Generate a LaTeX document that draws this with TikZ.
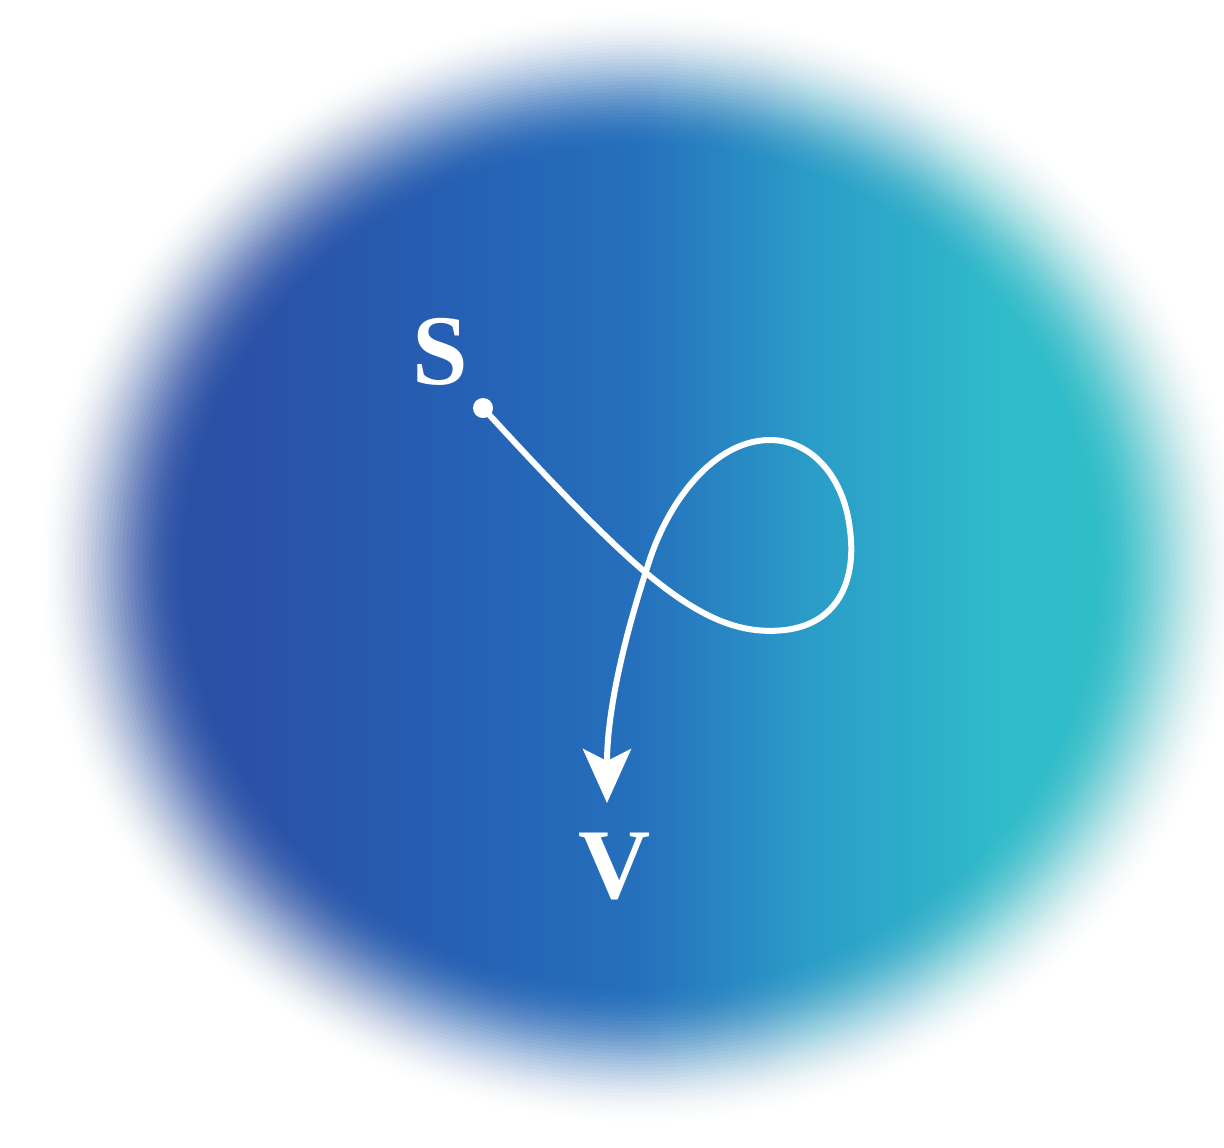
\documentclass[tikz,border=0pt]{standalone}
\usepackage{fontspec}
\setmainfont{Liberation Serif}[BoldFont={Liberation Serif Bold}]
\usetikzlibrary{arrows.meta}
\definecolor{c0}{HTML}{2A4CA2}
\definecolor{c1}{HTML}{2A52A8}
\definecolor{c2}{HTML}{2560B4}
\definecolor{c3}{HTML}{2570BC}
\definecolor{c4}{HTML}{2A9CC8}
\definecolor{c5}{HTML}{2FBBCA}
\definecolor{c6}{HTML}{30C0C8}
\pgfdeclarehorizontalshading{blobshade}{100bp}{color(0bp)=(c0); color(25bp)=(c0); color(35bp)=(c1); color(42.5bp)=(c2); color(50bp)=(c3); color(57bp)=(c4); color(65bp)=(c5); color(75bp)=(c6); color(100bp)=(c6)}
\tikzset{
  lbl/.style={text=white, font=\fontsize{50}{50}\selectfont\bfseries, inner sep=0pt},
  pathline/.style={draw=white, line width=3pt, line cap=round,
    -{Stealth[length=27pt, width=24pt, inset=6pt]}},
}
\begin{document}
\begin{tikzpicture}[x=0.5pt,y=-0.5pt]
\useasboundingbox (0,0) rectangle (1224,1147);
\fill[white] (0,0) rectangle (1224,1147);
\coordinate (ctr) at (640,567);
\fill[shading=blobshade] (ctr) ellipse (602 and 557);
\foreach \k in {1,...,40}{
  \pgfmathsetmacro{\sa}{0.74+0.26*(\k-1)/40}
  \pgfmathsetmacro{\sb}{0.74+0.26*\k/40}
  \pgfmathsetmacro{\fa}{0.5+0.5*cos(180*(\k-1)/40)}
  \pgfmathsetmacro{\fb}{0.5+0.5*cos(180*\k/40)}
  \pgfmathsetmacro{\al}{1-\fb/\fa}
  \fill[white, fill opacity=\al, even odd rule] (-20,-20) rectangle (1244,1167) (ctr) ellipse ({600*\sb} and {555*\sb});
}
\node[lbl] (S) at (440,352) {S};
\node[lbl] (V) at (615,866) {V};
\coordinate (start) at (483,408);
\coordinate (tip) at (607,803);
\fill[white] (start) circle (10);
\draw[pathline] (start) .. controls (540,470) and (598,532) .. (645,572)
  .. controls (700,618) and (740,635) .. (785,630)
  .. controls (842,623) and (856,575) .. (850,530)
  .. controls (844,475) and (810,440) .. (770,440)
  .. controls (715,440) and (668,500) .. (648,565)
  .. controls (625,635) and (607,710) .. (tip);
\end{tikzpicture}
\end{document}
